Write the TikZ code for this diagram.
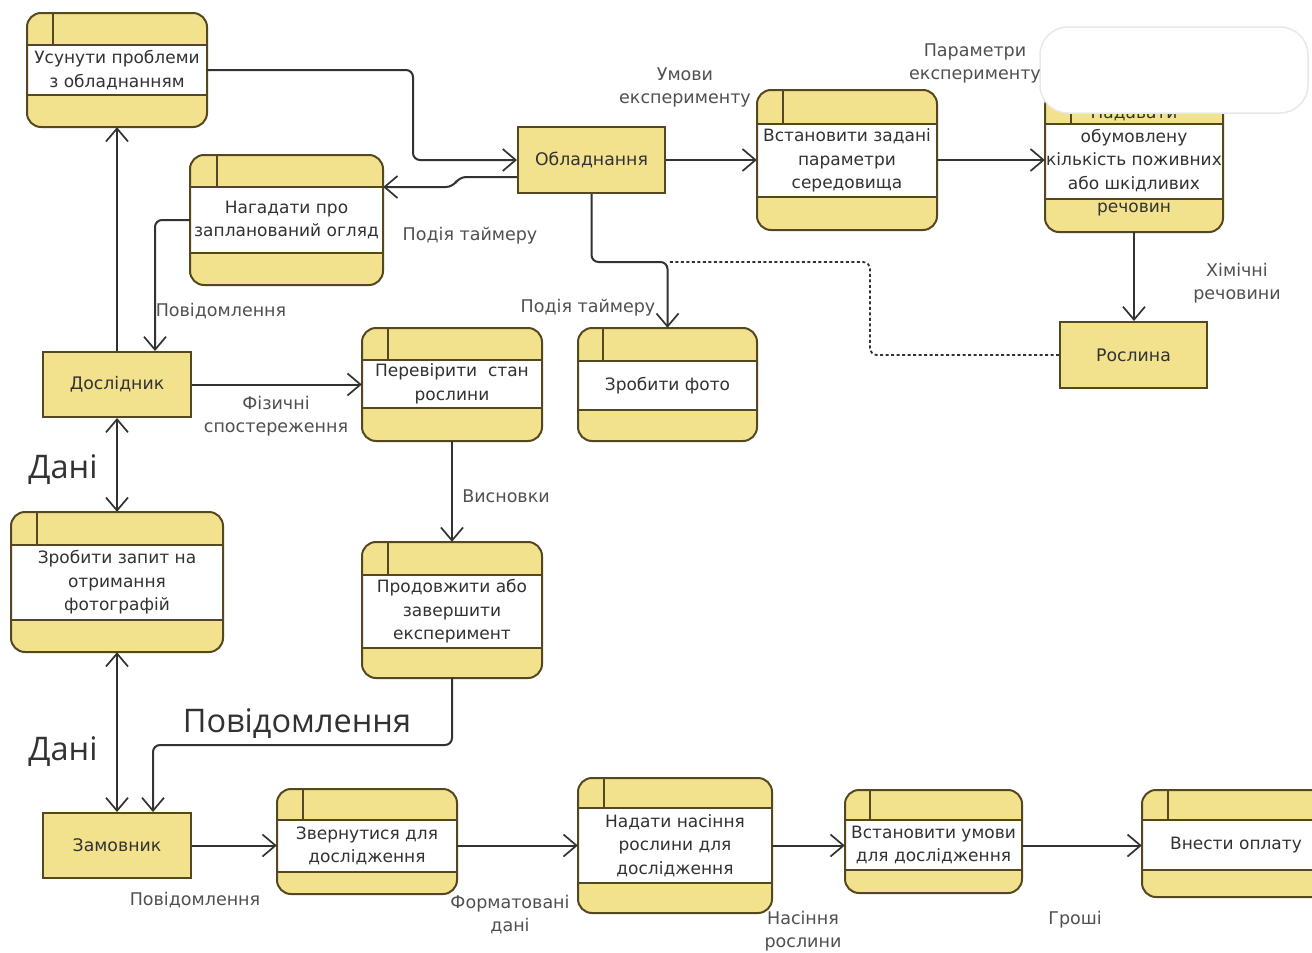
\documentclass[tikz,border=0pt]{standalone}
\usepackage{fontspec}
\setmainfont{DejaVu Sans}
\newfontfamily\bigfont{Open Sans}
\usetikzlibrary{arrows.meta,fit,calc}
\definecolor{boxfill}{RGB}{242,226,142}
\definecolor{boxline}{RGB}{85,72,32}
\definecolor{wire}{RGB}{50,50,50}
\definecolor{lbl}{RGB}{80,80,80}
\definecolor{txt}{RGB}{50,50,50}
\definecolor{callout}{RGB}{232,232,232}

\tikzset{
  procshape/.style={rectangle, inner sep=0pt, fill=boxfill, rounded corners=14pt},
  procborder/.style={draw=boxline, line width=2pt, rounded corners=14pt},
  bandline/.style={draw=boxline, line width=1.8pt},
  proctext/.style={align=center, text=txt, font=\fontsize{17}{23.5}\selectfont, inner sep=0pt},
  entity/.style={rectangle, inner sep=0pt, fill=boxfill, draw=boxline, line width=2pt},
  enttext/.style={text=txt, font=\fontsize{17.3}{23.5}\selectfont},
  lbltext/.style={align=center, text=lbl, font=\fontsize{17.5}{23}\selectfont, inner sep=0pt},
  bigtext/.style={text=txt, font=\bigfont\fontsize{32.5}{38}\selectfont, inner sep=0pt},
  tip/.tip={Straight Barb[length=13pt,width=22pt,line width=1.7pt]},
  flow/.style={draw=wire, line width=2pt, rounded corners=7pt, -tip},
  biflow/.style={draw=wire, line width=2pt, tip-tip},
  dotflow/.style={draw=wire, line width=1.8pt, rounded corners=7pt, dash pattern=on 3pt off 2.5pt}
}

% #1 name, #2 x1, #3 y1, #4 x2, #5 y2, #6 band1, #7 band2, #8 divider x, #9 text
\newcommand{\procbox}[9]{%
  \node[procshape, fit={(#2,#3) (#4,#5)}] (#1) {};
  \fill[white] (#2,#6) rectangle (#4,#7);
  \draw[bandline] (#2,#6) -- (#4,#6) (#2,#7) -- (#4,#7) (#8,#3) -- (#8,#6);
  \node[proctext] (#1-t) at ($(#2,#6)!0.5!(#4,#7)$) {#9};
  \draw[procborder] (#2,#3) rectangle (#4,#5);
}
\newcommand{\entbox}[6]{%
  \node[entity, fit={(#2,#3) (#4,#5)}] (#1) {};
  \node[enttext] (#1-t) at (#1.center) {#6};
}

\begin{document}
\begin{tikzpicture}[x=1pt,y=-1pt]
\useasboundingbox (0,0) rectangle (1312,953);
\fill[white] (0,0) rectangle (1312,953);

% processes
\procbox{usun}{27}{13}{207}{127}{45}{95}{53}{Усунути проблеми\\з обладнанням}
\procbox{nag}{190}{155}{383}{285}{187}{253}{217}{Нагадати про\\запланований огляд}
\procbox{vst}{757}{90}{937}{230}{124}{197}{783}{Встановити задані\\параметри\\середовища}
\procbox{nad}{1045}{92}{1223}{232}{124}{199}{1071}{Надавати\\обумовлену\\кількість поживних\\або шкідливих\\речовин}
\procbox{perev}{362}{328}{542}{441}{360}{408}{388}{Перевірити~~стан\\рослини}
\procbox{foto}{578}{328}{757}{441}{361}{410}{603}{Зробити фото}
\procbox{zapyt}{11}{512}{223}{652}{545}{620}{37}{Зробити запит на\\отримання\\фотографій}
\procbox{prod}{362}{542}{542}{678}{575}{648}{388}{Продовжити або\\завершити\\експеримент}
\procbox{zvern}{277}{789}{457}{894}{820}{872}{303}{Звернутися для\\дослідження}
\procbox{nadaty}{578}{778}{772}{913}{808}{883}{604}{Надати насіння\\рослини для\\дослідження}
\procbox{vstum}{845}{790}{1022}{893}{820}{870}{870}{Встановити умови\\для дослідження}
\procbox{vnesty}{1142}{790}{1330}{897}{820}{870}{1168}{Внести оплату}

% callout covering top of "nad"
\draw[draw=callout, fill=white, line width=1.5pt, rounded corners=28pt] (1040,27) rectangle (1308,113);

% entities
\entbox{obl}{518}{127}{665}{193}{Обладнання}
\entbox{rosl}{1060}{322}{1207}{388}{Рослина}
\entbox{dosl}{43}{352}{191}{417}{Дослідник}
\entbox{zam}{43}{813}{191}{878}{Замовник}

% connectors
\draw[flow] (usun.east) -- (413,70) -- (413,160) -- (obl.west);
\draw[flow] ([yshift=-17pt]obl.west) -- (459,177) -- (453,187) -- (nag.east |- 0,187);
\draw[flow] (nag.west) -| ([xshift=38pt]dosl.north);
\draw[flow] (dosl.north) -- (dosl.north |- usun.south);
\draw[flow] (obl.south) -- (obl.south |- 0,262) -| (foto.north);
\draw[dotflow] (rosl.west) -| (870,262) -- (669,262);
\draw[flow] (obl.east) -- (vst.west);
\draw[flow] (vst.east) -- (vst.east -| nad.west);
\draw[flow] (nad.south) -- (nad.south |- rosl.north);
\draw[flow] (dosl.east) -- (dosl.east -| perev.west);
\draw[flow] (perev.south) -- (perev.south |- prod.north);
\draw[biflow] (dosl.south) -- (dosl.south |- zapyt.north);
\draw[biflow] (zapyt.south) -- (zapyt.south |- zam.north);
\draw[flow] (prod.south) -- (prod.south |- 0,745) -| ([xshift=36pt]zam.north);
\draw[flow] (zam.east) -- (zam.east -| zvern.west);
\draw[flow] (zvern.east |- zam.east) -- (zam.east -| nadaty.west);
\draw[flow] (nadaty.east |- zam.east) -- (zam.east -| vstum.west);
\draw[flow] (vstum.east |- zam.east) -- (zam.east -| vnesty.west);

% labels
\node[lbltext] (l1) at (470,236) {Подія таймеру};
\node[lbltext] (l2) at (221,311) {Повідомлення};
\node[lbltext] (l3) at (588,308) {Подія таймеру};
\node[lbltext] (l4) at (685,87) {Умови\\експерименту};
\node[lbltext] (l5) at (975,63) {Параметри\\експерименту};
\node[lbltext] (l6) at (1237,283) {Хімічні\\речовини};
\node[lbltext] (l7) at (276,416) {Фізичні\\спостереження};
\node[lbltext] (l8) at (506,496) {Висновки};
\node[bigtext] (l9) at (63,470) {Дані};
\node[bigtext] (l10) at (63,752) {Дані};
\node[bigtext] (l11) at (297,724) {Повідомлення};
\node[lbltext] (l12) at (195,900) {Повідомлення};
\node[lbltext] (l13) at (510,915) {Форматовані\\дані};
\node[lbltext] (l14) at (803,931) {Насіння\\рослини};
\node[lbltext] (l15) at (1075,920) {Гроші};
\end{tikzpicture}
\end{document}
